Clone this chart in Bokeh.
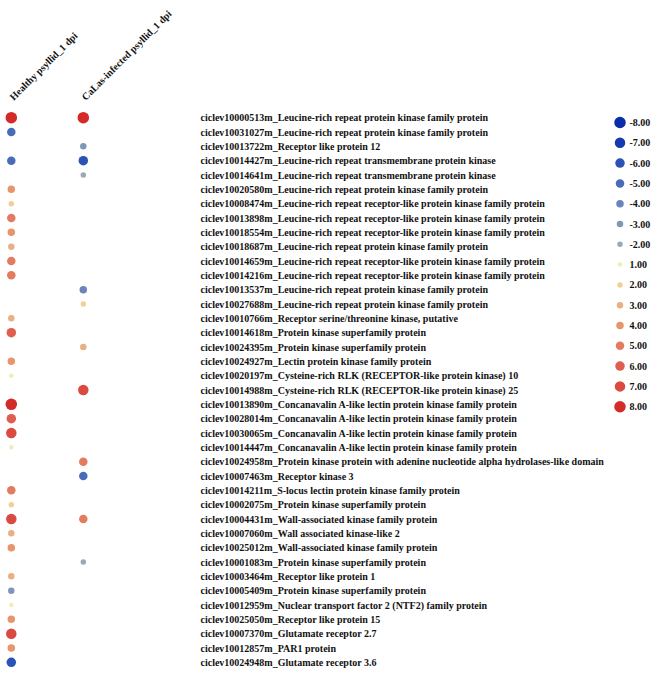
import math
from bokeh.plotting import figure
from bokeh.models import Range1d, FactorRange, ColumnDataSource, LinearColorMapper
from bokeh.layouts import row
from bokeh.transform import transform
from bokeh.embed import file_html
from bokeh.resources import INLINE

conditions = ["Healthy psyllid_1 dpi", "CaLas-infected psyllid_1 dpi"]

genes = [
    "ciclev10000513m_Leucine-rich repeat protein kinase family protein",
    "ciclev10031027m_Leucine-rich repeat protein kinase family protein",
    "ciclev10013722m_Receptor like protein 12",
    "ciclev10014427m_Leucine-rich repeat transmembrane protein kinase",
    "ciclev10014641m_Leucine-rich repeat transmembrane protein kinase",
    "ciclev10020580m_Leucine-rich repeat protein kinase family protein",
    "ciclev10008474m_Leucine-rich repeat receptor-like protein kinase family protein",
    "ciclev10013898m_Leucine-rich repeat receptor-like protein kinase family protein",
    "ciclev10018554m_Leucine-rich repeat receptor-like protein kinase family protein",
    "ciclev10018687m_Leucine-rich repeat protein kinase family protein",
    "ciclev10014659m_Leucine-rich repeat receptor-like protein kinase family protein",
    "ciclev10014216m_Leucine-rich repeat receptor-like protein kinase family protein",
    "ciclev10013537m_Leucine-rich repeat protein kinase family protein",
    "ciclev10027688m_Leucine-rich repeat protein kinase family protein",
    "ciclev10010766m_Receptor serine/threonine kinase, putative",
    "ciclev10014618m_Protein kinase superfamily protein",
    "ciclev10024395m_Protein kinase superfamily protein",
    "ciclev10024927m_Lectin protein kinase family protein",
    "ciclev10020197m_Cysteine-rich RLK (RECEPTOR-like protein kinase) 10",
    "ciclev10014988m_Cysteine-rich RLK (RECEPTOR-like protein kinase) 25",
    "ciclev10013890m_Concanavalin A-like lectin protein kinase family protein",
    "ciclev10028014m_Concanavalin A-like lectin protein kinase family protein",
    "ciclev10030065m_Concanavalin A-like lectin protein kinase family protein",
    "ciclev10014447m_Concanavalin A-like lectin protein kinase family protein",
    "ciclev10024958m_Protein kinase protein with adenine nucleotide alpha hydrolases-like domain",
    "ciclev10007463m_Receptor kinase 3",
    "ciclev10014211m_S-locus lectin protein kinase family protein",
    "ciclev10002075m_Protein kinase superfamily protein",
    "ciclev10004431m_Wall-associated kinase family protein",
    "ciclev10007060m_Wall associated kinase-like 2",
    "ciclev10025012m_Wall-associated kinase family protein",
    "ciclev10001083m_Protein kinase superfamily protein",
    "ciclev10003464m_Receptor like protein 1",
    "ciclev10005409m_Protein kinase superfamily protein",
    "ciclev10012959m_Nuclear transport factor 2 (NTF2) family protein",
    "ciclev10025050m_Receptor like protein 15",
    "ciclev10007370m_Glutamate receptor 2.7",
    "ciclev10012857m_PAR1 protein",
    "ciclev10024948m_Glutamate receptor 3.6",
]

healthy = [8, -5, None, -5, None, 4, 2, 5, 4, 3, 5, 5, None, None, 3, 6, None, 4, 1, None,
           8, 6, 7, 1, None, None, 5, 2, 7, 3, 4, None, 3, -3, 1, 4, 7, 4, -6]
calas = [8, None, -3, -6, -2, None, None, None, None, None, None, None, -4, 2, None, None, 3, None, None, 7,
         None, None, None, None, 5, -5, None, None, 5, None, None, -2, None, None, None, None, None, None, None]

legend_values = [-8, -7, -6, -5, -4, -3, -2, 1, 2, 3, 4, 5, 6, 7, 8]
legend_labels = ["%.2f" % v for v in legend_values]

palette = ["#0a2caa", "#1639b0", "#2b52b5", "#4a6cb8", "#6a85ba", "#8096b8", "#9aa9b3", "#ffffff",
           "#ffffff", "#f1ebb6", "#efd197", "#eab083", "#e8956e", "#e47b5f", "#df5e4e", "#db4a40", "#d42a28"]
cmap = LinearColorMapper(palette=palette, low=-8.5, high=8.5)

FONT = "Liberation Serif"
TOP = 110          # space above the plotting frame
H = 669
W_MAIN = 613
W_LEG = 40
FRAME_W = 194      # main frame width (72 px per column)


def style_axis(ax, standoff):
    ax.axis_line_color = None
    ax.major_tick_line_color = None
    ax.minor_tick_line_color = None
    ax.major_tick_out = 0
    ax.major_tick_in = 0
    ax.major_label_standoff = standoff
    ax.major_label_text_font = FONT
    ax.major_label_text_font_style = "bold"
    ax.major_label_text_font_size = "10px"
    ax.major_label_text_color = "#111111"


xs, ys, vs = [], [], []
for ci, series in enumerate([healthy, calas]):
    for g, v in zip(genes, series):
        if v is not None:
            xs.append(ci)
            ys.append(g)
            vs.append(v)
sizes = [3.5 + abs(v) for v in vs]
src = ColumnDataSource(dict(x=xs, y=ys, v=vs, s=sizes))

p = figure(width=W_MAIN, height=H, x_range=Range1d(-0.15, -0.15 + FRAME_W / 72),
           y_range=FactorRange(factors=genes[::-1]),
           x_axis_location="above", y_axis_location="right", output_backend="svg", toolbar_location=None,
           min_border_left=0, min_border_top=TOP, min_border_bottom=0, min_border_right=W_MAIN - FRAME_W)
p.outline_line_color = None
p.grid.visible = False
p.scatter("x", "y", source=src, size="s", fill_color=transform("v", cmap), line_color=None, marker="circle")

p.xaxis.ticker = [0, 1]
p.xaxis.major_label_overrides = {0: conditions[0], 1: conditions[1]}
p.xaxis.major_label_orientation = math.pi / 4
style_axis(p.xaxis[0], 12)
style_axis(p.yaxis[0], 6)

# legend: same frame height as main plot, items stacked from the top (20.3 px apart)
step = 20.3
frame_h = H - TOP
lidx = list(range(len(legend_values)))
lsrc = ColumnDataSource(dict(x=[0] * len(legend_values), y=lidx, v=legend_values,
                             s=[3.5 + abs(v) for v in legend_values]))
top_u = -12 / step
lg = figure(width=W_LEG, height=H, x_range=Range1d(-1, 1), y_range=Range1d(top_u + frame_h / step, top_u),
            x_axis_location=None, y_axis_location="right", output_backend="svg", toolbar_location=None,
            min_border_left=0, min_border_top=TOP, min_border_bottom=0, min_border_right=26)
lg.outline_line_color = None
lg.grid.visible = False
lg.scatter("x", "y", source=lsrc, size="s", fill_color=transform("v", cmap), line_color=None, marker="circle")
lg.yaxis.ticker = lidx
lg.yaxis.major_label_overrides = {i: t for i, t in zip(lidx, legend_labels)}
style_axis(lg.yaxis[0], 3)

layout = row(p, lg)
open("out.html", "w").write(file_html(layout, INLINE))
